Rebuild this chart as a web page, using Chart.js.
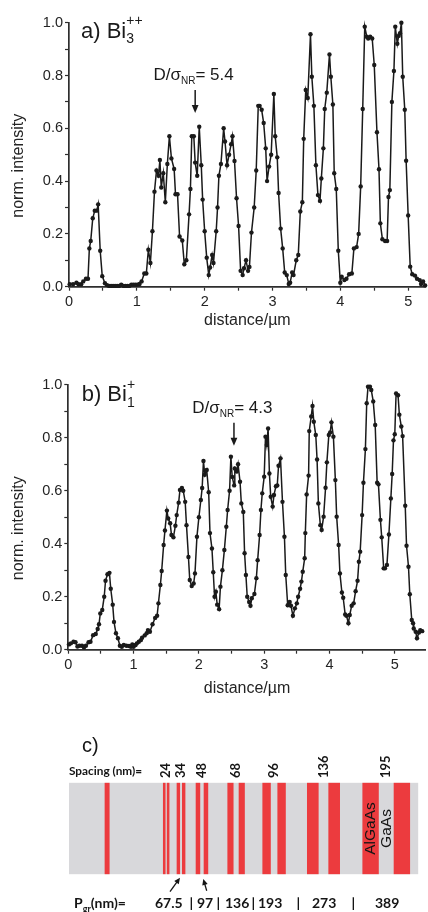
<!DOCTYPE html>
<html><head><meta charset="utf-8">
<script src="https://cdn.jsdelivr.net/npm/chart.js@4.4.1/dist/chart.umd.min.js"></script>
<style>
html,body{margin:0;padding:0;background:#fff;}
body{width:428px;height:912px;position:relative;overflow:hidden;}
canvas{position:absolute;left:0;display:block;}
#ca{top:0;} #cb{top:350px;} #cc{top:700px;}
</style></head><body>
<canvas id="ca" width="428" height="335"></canvas>
<canvas id="cb" width="428" height="350"></canvas>
<canvas id="cc" width="428" height="212"></canvas>
<script>
// ---------- Panel a) Bi3++ : distance (µm) and normalised intensity ----------
const distA = [
 0.01,0.06,0.11,0.14,0.18,0.21,0.25,0.28,0.30,0.32,
 0.35,0.38,0.41,0.43,0.46,0.49,0.53,0.56,0.59,0.62,
 0.65,0.68,0.71,0.74,0.77,0.80,0.83,0.86,0.89,0.92,
 0.95,0.98,1.01,1.04,1.07,1.11,1.14,1.17,1.20,1.23,
 1.26,1.29,1.32,1.34,1.36,1.39,1.42,1.45,1.48,1.51,
 1.55,1.57,1.60,1.63,1.67,1.70,1.73,1.77,1.79,1.81,
 1.84,1.86,1.89,1.92,1.95,1.97,2.00,2.03,2.06,2.08,
 2.11,2.13,2.17,2.19,2.21,2.24,2.28,2.30,2.33,2.36,
 2.39,2.41,2.44,2.47,2.50,2.53,2.56,2.58,2.61,2.64,
 2.66,2.69,2.73,2.76,2.79,2.81,2.84,2.87,2.90,2.92,
 2.95,2.98,3.02,3.04,3.07,3.09,3.12,3.15,3.18,3.21,
 3.24,3.26,3.29,3.31,3.35,3.38,3.41,3.44,3.46,3.49,
 3.52,3.56,3.58,3.61,3.64,3.67,3.70,3.72,3.75,3.77,
 3.80,3.84,3.86,3.89,3.91,3.94,3.97,4.00,4.02,4.06,
 4.09,4.13,4.17,4.20,4.24,4.27,4.30,4.33,4.36,4.39,
 4.41,4.44,4.47,4.50,4.54,4.57,4.59,4.62,4.66,4.69,
 4.71,4.73,4.76,4.79,4.81,4.84,4.86,4.88,4.90,4.92,
 4.95,4.97,5.00,5.03,5.06,5.10,5.13,5.17,5.19,5.22,
 5.25];
const intA = [
 0.009,0.009,0.015,0.009,0.009,0.02,0.03,0.03,0.145,0.173,
 0.259,0.288,0.288,0.312,0.136,0.04,0.013,0.006,0.003,0.003,
 0.003,0.003,0.003,0.003,0.008,0.003,0.003,0.003,0.003,0.008,
 0.008,0.008,0.008,0.01,0.02,0.05,0.05,0.14,0.09,0.21,
 0.36,0.44,0.42,0.48,0.376,0.43,0.32,0.465,0.57,0.486,
 0.446,0.35,0.35,0.19,0.175,0.085,0.10,0.274,0.37,0.57,
 0.57,0.47,0.42,0.606,0.46,0.33,0.21,0.11,0.044,0.073,
 0.12,0.09,0.21,0.30,0.42,0.465,0.60,0.55,0.46,0.50,
 0.54,0.57,0.476,0.335,0.23,0.06,0.044,0.07,0.10,0.06,
 0.075,0.205,0.30,0.44,0.685,0.685,0.67,0.62,0.524,0.40,
 0.455,0.50,0.73,0.57,0.49,0.355,0.22,0.145,0.054,0.044,
 0.01,0.015,0.054,0.044,0.10,0.12,0.285,0.32,0.56,0.745,
 0.715,0.956,0.795,0.685,0.46,0.347,0.325,0.41,0.524,0.673,
 0.735,0.88,0.795,0.69,0.43,0.37,0.136,0.015,0.038,0.025,
 0.03,0.047,0.05,0.145,0.15,0.20,0.38,0.673,0.985,0.947,
 0.94,0.947,0.94,0.84,0.585,0.445,0.24,0.18,0.173,0.173,
 0.34,0.366,0.70,0.817,0.985,0.92,0.95,0.96,1.0,0.795,
 0.67,0.477,0.27,0.076,0.047,0.042,0.03,0.025,0.01,0.02,
 0.005];

// ---------- Panel b) Bi1+ ----------
const distB = [
 0.01,0.04,0.08,0.11,0.14,0.17,0.21,0.24,0.27,0.31,
 0.34,0.38,0.42,0.45,0.47,0.49,0.52,0.55,0.57,0.60,
 0.63,0.65,0.68,0.70,0.73,0.76,0.79,0.82,0.85,0.89,
 0.93,0.96,0.98,1.00,1.03,1.05,1.08,1.11,1.13,1.17,
 1.20,1.22,1.25,1.29,1.33,1.36,1.38,1.41,1.43,1.46,
 1.48,1.51,1.53,1.56,1.58,1.61,1.64,1.66,1.69,1.71,
 1.74,1.76,1.79,1.81,1.84,1.86,1.89,1.92,1.94,1.97,
 2.00,2.03,2.05,2.07,2.09,2.12,2.15,2.17,2.20,2.22,
 2.24,2.26,2.28,2.31,2.33,2.36,2.39,2.42,2.44,2.47,
 2.49,2.51,2.54,2.55,2.58,2.60,2.63,2.65,2.68,2.70,
 2.72,2.74,2.77,2.79,2.81,2.85,2.88,2.90,2.93,2.95,
 2.97,3.00,3.02,3.04,3.06,3.08,3.10,3.13,3.15,3.18,
 3.20,3.22,3.25,3.28,3.31,3.33,3.36,3.39,3.41,3.44,
 3.47,3.50,3.52,3.55,3.57,3.59,3.62,3.63,3.65,3.68,
 3.69,3.72,3.74,3.76,3.79,3.81,3.83,3.86,3.88,3.91,
 3.94,3.96,3.99,4.01,4.03,4.06,4.09,4.11,4.14,4.16,
 4.19,4.21,4.24,4.26,4.29,4.31,4.34,4.37,4.40,4.43,
 4.45,4.47,4.50,4.52,4.55,4.57,4.59,4.62,4.64,4.67,
 4.70,4.73,4.75,4.78,4.80,4.83,4.85,4.88,4.91,4.94,
 4.96,4.98,5.00,5.02,5.05,5.07,5.10,5.12,5.16,5.18,
 5.21,5.23,5.26,5.28,5.29,5.32,5.34,5.37,5.39,5.42];
const intB = [
 0.02,0.024,0.03,0.028,0.012,0.015,0.015,0.008,0.015,0.028,
 0.03,0.055,0.059,0.078,0.096,0.137,0.15,0.20,0.26,0.285,
 0.29,0.23,0.17,0.105,0.062,0.043,0.015,0.011,0.018,0.015,
 0.014,0.011,0.02,0.011,0.018,0.024,0.03,0.036,0.045,0.054,
 0.062,0.074,0.068,0.096,0.12,0.128,0.175,0.244,0.297,0.395,
 0.45,0.525,0.495,0.477,0.433,0.424,0.468,0.508,0.555,0.603,
 0.61,0.60,0.558,0.47,0.35,0.263,0.24,0.25,0.288,0.426,
 0.50,0.565,0.61,0.712,0.66,0.678,0.594,0.44,0.382,0.292,
 0.20,0.219,0.17,0.153,0.238,0.30,0.376,0.464,0.527,0.60,
 0.728,0.652,0.62,0.684,0.672,0.70,0.634,0.552,0.52,0.364,
 0.282,0.20,0.18,0.166,0.194,0.21,0.27,0.338,0.433,0.527,
 0.59,0.653,0.804,0.772,0.835,0.665,0.577,0.54,0.584,0.617,
 0.62,0.694,0.722,0.558,0.426,0.282,0.168,0.18,0.166,0.128,
 0.156,0.175,0.20,0.23,0.257,0.294,0.345,0.44,0.586,0.657,
 0.825,0.88,0.92,0.86,0.81,0.718,0.552,0.47,0.452,0.502,
 0.611,0.707,0.81,0.82,0.858,0.804,0.64,0.502,0.395,0.288,
 0.216,0.196,0.133,0.128,0.10,0.131,0.166,0.175,0.221,0.26,
 0.332,0.37,0.508,0.63,0.757,0.93,0.992,0.992,0.98,0.937,
 0.848,0.63,0.624,0.49,0.424,0.307,0.307,0.32,0.435,0.571,
 0.663,0.79,0.813,0.967,0.96,0.887,0.842,0.806,0.543,0.392,
 0.313,0.209,0.112,0.10,0.08,0.068,0.043,0.065,0.074,0.07];

// ---------- Panel c) layer structure (nm) ----------
const sampleWidth = 4331;
const layerStart = [446,1169,1217,1339,1405,1575,1674,1968,2108,2402,2588,2955,3220,3642,4030];
const layerWidth = [53,24,24,34,34,48,48,68,68,96,96,136,136,195,195];
const spacingLabels = ['24','34','48','68','96','136','195'];
const periodLabels = ['67.5','97','136','193','273','389'];

// ---------- styling ----------
const INK = '#1a1a1a', AX = '#2e2e2e', TK = '#242424';
const RED = '#ec3b3e', GRAY = '#d8d8db';
const SANS = '"Liberation Sans", Arial, sans-serif';
Chart.defaults.font.family = SANS;
Chart.defaults.color = TK;

function drawRuns(ctx, x, y, parts) {
  let cx = x;
  for (const p of parts) {
    ctx.font = p.font;
    ctx.fillText(p.t, cx, y + (p.dy || 0));
    if (!p.hold) cx += ctx.measureText(p.t).width;
  }
  return cx;
}
function arrow(ctx, x1, y1, x2, y2, head, half, w) {
  const a = Math.atan2(y2 - y1, x2 - x1), c = Math.cos(a), s = Math.sin(a);
  ctx.lineWidth = w;
  ctx.beginPath(); ctx.moveTo(x1, y1); ctx.lineTo(x2 - c * head * 0.8, y2 - s * head * 0.8); ctx.stroke();
  ctx.beginPath(); ctx.moveTo(x2, y2);
  ctx.lineTo(x2 - head * c + half * s, y2 - head * s - half * c);
  ctx.lineTo(x2 - head * c - half * s, y2 - head * s + half * c);
  ctx.closePath(); ctx.fill();
}

function panelPlugin(cfg) {
  return {
    id: 'panel_' + cfg.id,
    afterDraw(chart) {
      const ctx = chart.ctx, ca = chart.chartArea, xs = chart.scales.x, ys = chart.scales.y;
      ctx.save();
      ctx.fillStyle = INK; ctx.strokeStyle = INK;
      ctx.textAlign = 'left'; ctx.textBaseline = 'alphabetic';
      drawRuns(ctx, cfg.labelX, cfg.labelY, cfg.label);
      // y-axis title
      ctx.save();
      ctx.translate(23.3, (ca.top + ca.bottom) / 2 + 11);
      ctx.rotate(-Math.PI / 2);
      ctx.font = '16px ' + SANS; ctx.fillStyle = TK; ctx.textAlign = 'center';
      ctx.fillText('norm. intensity', 0, 0);
      ctx.restore();
      // annotation arrow and resolution text
      const ax = xs.getPixelForValue(cfg.arrowAt[0]), ay = ys.getPixelForValue(cfg.arrowAt[1]);
      arrow(ctx, ax, ay - 23, ax, ay, 8, 3.4, 1.5);
      drawRuns(ctx, ax - 41.7, ay - 32.5, [
        {t: 'D/σ', font: '17px ' + SANS},
        {t: 'NR', font: '10px ' + SANS, dy: 4},
        {t: '= ' + cfg.ratio, font: '17px ' + SANS}
      ]);
      ctx.restore();
    }
  };
}

function lineChart(id, dist, inten, xMax, o, plugin) {
  return new Chart(document.getElementById(id), {
    type: 'line',
    data: { datasets: [{
      data: dist.map((d, i) => ({x: d, y: inten[i]})),
      borderColor: INK, borderWidth: 1.5, tension: 0,
      pointRadius: 2.2, pointBackgroundColor: INK, pointBorderWidth: 0, pointHoverRadius: 2.2,
      clip: false
    }]},
    options: {
      responsive: false, animation: false, events: [],
      layout: { padding: { top: o.padTop, left: 0, right: 0, bottom: 0 } },
      plugins: { legend: { display: false }, tooltip: { enabled: false } },
      scales: {
        x: {
          type: 'linear', min: 0, max: xMax,
          afterFit: s => { s.height = o.xAxisH; },
          border: { display: true, color: AX, width: 1.7 },
          grid: { display: true, drawOnChartArea: false, drawTicks: true, tickLength: 4, tickColor: AX, tickWidth: 1.2 },
          ticks: { stepSize: 0.5, autoSkip: false, includeBounds: false, maxRotation: 0, padding: 3,
            color: TK, font: { size: 14.5 },
            callback: v => Math.abs(v - Math.round(v)) < 1e-6 ? String(Math.round(v)) : '' },
          title: { display: true, text: 'distance/µm', color: TK, font: { size: 16 },
            padding: { top: 0, bottom: o.titlePad } }
        },
        y: {
          min: 0, max: 1,
          afterFit: s => { s.width = o.yAxisW; },
          border: { display: true, color: AX, width: 1.7 },
          grid: { display: true, drawOnChartArea: false, drawTicks: true, tickLength: 4, tickColor: AX, tickWidth: 1.2 },
          ticks: { stepSize: 0.1, autoSkip: false, includeBounds: false, padding: 2,
            color: TK, font: { size: 14.5 },
            callback: v => (Math.round(v * 10) % 2 === 0) ? v.toFixed(1) : '' }
        }
      }
    },
    plugins: [plugin]
  });
}

lineChart('ca', distA, intA, 5.26,
  { padTop: 22.7, xAxisH: 48.3, yAxisW: 69, titlePad: 4.4 },
  panelPlugin({ id: 'a', labelX: 81, labelY: 38.3, arrowAt: [1.86, 0.658], ratio: '5.4',
    label: [
      {t: 'a) Bi', font: '22px ' + SANS},
      {t: '3', font: '14px ' + SANS, dy: 5, hold: true},
      {t: '++', font: '14px ' + SANS, dy: -13.7}
    ]}));

lineChart('cb', distB, intB, 5.475,
  { padTop: 34.7, xAxisH: 50.3, yAxisW: 68.3, titlePad: 1.4 },
  panelPlugin({ id: 'b', labelX: 81.7, labelY: 51, arrowAt: [2.537, 0.77], ratio: '4.3',
    label: [
      {t: 'b) Bi', font: '22px ' + SANS},
      {t: '1', font: '14px ' + SANS, dy: 5.7, hold: true},
      {t: '+', font: '14px ' + SANS, dy: -12}
    ]}));

// ---------- Panel c ----------
const structPlugin = {
  id: 'structLabels',
  afterDraw(chart) {
    const ctx = chart.ctx, ca = chart.chartArea, xs = chart.scales.x;
    ctx.save();
    ctx.fillStyle = '#151515'; ctx.strokeStyle = '#151515';
    ctx.textAlign = 'left'; ctx.textBaseline = 'alphabetic';
    ctx.font = '20px ' + SANS;
    ctx.fillText('c)', 82, 52);
    ctx.font = 'bold 11.8px Lato, ' + SANS;
    ctx.fillText('Spacing (nm)=', 69, 75);
    // spacing labels over the gaps between paired layers
    spacingLabels.forEach((lab, k) => {
      const i = 1 + 2 * k;
      const gap = (layerStart[i] + layerWidth[i] + layerStart[i + 1]) / 2;
      const px = xs.getPixelForValue(gap);
      ctx.save();
      ctx.translate(px, ca.top - 4.7);
      ctx.rotate(-Math.PI / 2);
      ctx.font = 'bold 13px Lato, ' + SANS;
      ctx.textAlign = 'left'; ctx.textBaseline = 'middle';
      ctx.fillText(lab, 0, 0);
      ctx.restore();
    });
    // material labels
    const midY = (ca.top + ca.bottom) / 2;
    const li = 13;
    const pxAl = xs.getPixelForValue(layerStart[li] + layerWidth[li] / 2);
    const pxGa = xs.getPixelForValue((layerStart[li] + layerWidth[li] + layerStart[li + 1]) / 2);
    [[pxAl, 'AlGaAs'], [pxGa, 'GaAs']].forEach(([px, t]) => {
      ctx.save();
      ctx.translate(px, midY);
      ctx.rotate(-Math.PI / 2);
      ctx.font = '15.5px ' + SANS;
      ctx.textAlign = 'center'; ctx.textBaseline = 'middle';
      ctx.fillText(t, 0, 0);
      ctx.restore();
    });
    // arrows under the stack
    arrow(ctx, 170, 191.7, 180, 177.7, 6, 2.8, 1.3);
    arrow(ctx, 206.7, 190.7, 203.3, 179, 6, 2.8, 1.3);
    // period row
    ctx.textBaseline = 'alphabetic'; ctx.textAlign = 'left';
    drawRuns(ctx, 74, 208.3, [
      {t: 'P', font: 'bold 14px Lato, ' + SANS},
      {t: 'gr', font: 'bold 9px Lato, ' + SANS, dy: 3.4},
      {t: '(nm)=', font: 'bold 14px Lato, ' + SANS}
    ]);
    ctx.font = 'bold 14px Lato, ' + SANS;
    const pos = [155, 197, 225, 258, 312, 375];
    const bars = [189.5, 216.5, 251.5, 296.5, 351.5];
    periodLabels.forEach((t, k) => ctx.fillText(t, pos[k], 208.3));
    bars.forEach(x => ctx.fillText('|', x, 208.3));
    ctx.restore();
  }
};

new Chart(document.getElementById('cc'), {
  type: 'bar',
  data: {
    labels: ['sample'],
    datasets: [
      ...layerStart.map((s, i) => ({
        label: 'AlGaAs', data: [[s, s + layerWidth[i]]], backgroundColor: RED,
        order: 1, grouped: false, barPercentage: 1, categoryPercentage: 1, borderWidth: 0
      })),
      { label: 'GaAs', data: [[0, sampleWidth]], backgroundColor: GRAY,
        order: 2, grouped: false, barPercentage: 1, categoryPercentage: 1, borderWidth: 0 }
    ]
  },
  options: {
    indexAxis: 'y', responsive: false, animation: false, events: [],
    layout: { padding: { left: 69, right: 9.7, top: 82.7, bottom: 37.7 } },
    plugins: { legend: { display: false }, tooltip: { enabled: false } },
    scales: {
      x: { type: 'linear', min: 0, max: sampleWidth, display: false },
      y: { display: false }
    }
  },
  plugins: [structPlugin]
});
</script>
</body></html>
